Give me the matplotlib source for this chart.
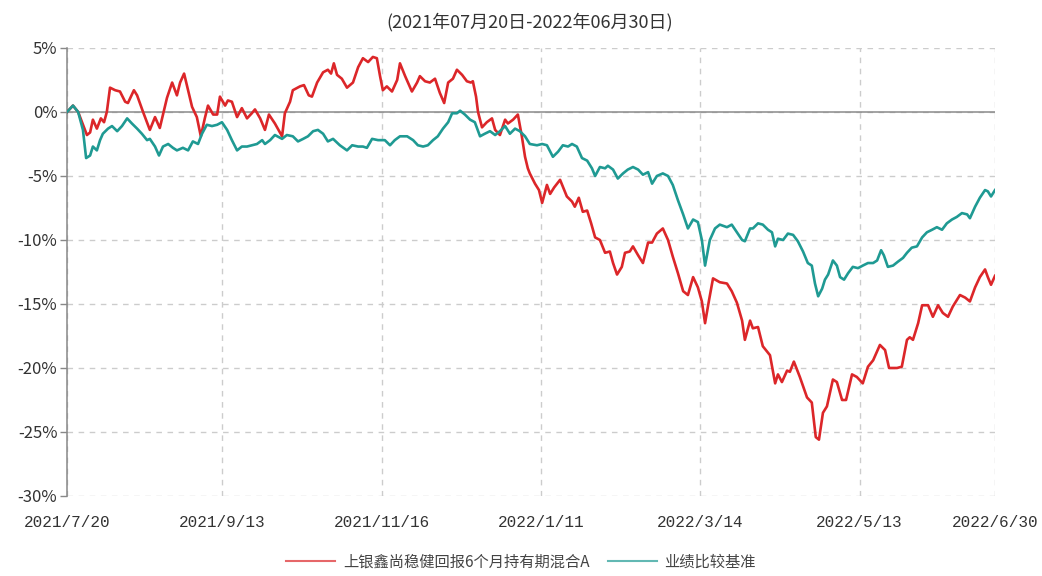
import matplotlib.pyplot as plt
import matplotlib.ticker as mticker

# trading-day position (0 = 2021/7/20) and cumulative return in %
fund_day = [0, 1.5, 2.8, 5.0, 5.8, 6.5, 7.5, 8.5, 9.3, 10.0, 10.8, 12.1, 13.3, 14.6, 15.3, 16.8, 17.6,
            19.1, 20.8, 22.1, 23.3, 25.1, 26.4, 27.6, 28.4, 29.4, 30.4, 31.4, 32.6, 33.6, 34.6, 35.4,
            36.7, 37.7, 38.4, 39.7, 40.4, 41.4, 42.7, 43.9, 45.2, 46.4, 47.2, 48.5, 49.7, 50.7, 52.2,
            54.0, 54.7, 56.0, 56.7, 58.5, 59.5, 60.7, 61.5, 62.8, 64.3, 65.5, 66.3, 67.0, 67.8, 69.0,
            70.3, 71.8, 73.1, 74.3, 75.6, 76.8, 77.8, 78.6, 79.3, 80.3, 81.6, 82.9, 83.6, 84.9, 86.6,
            87.9, 88.6, 89.9, 91.1, 92.4, 93.6, 94.7, 95.7, 96.9, 97.9, 99.2, 100.4, 101.4, 101.9,
            102.7, 103.2, 104.2, 105.4, 106.7, 107.5, 108.7, 110.0, 110.7, 112.0, 113.2, 114.2, 115.0,
            115.7, 116.2, 117.5, 118.5, 119.3, 120.5, 121.3, 122.3, 123.8, 125.5, 126.8, 127.5, 128.5,
            129.5, 130.6, 131.6, 132.6, 133.8, 135.1, 136.3, 137.1, 138.1, 139.3, 140.1, 141.3, 142.1,
            143.4, 144.6, 145.9, 146.9, 148.1, 149.6, 150.9, 152.1, 153.4, 154.7, 155.9, 157.2, 158.4,
            159.4, 160.2, 161.2, 162.2, 163.9, 165.7, 166.9, 168.2, 169.5, 170.2, 171.5, 172.2, 173.5,
            174.7, 176.5, 177.8, 178.5, 179.5, 180.8, 181.5, 182.5, 184.0, 185.8, 187.0, 188.0, 188.8,
            189.8, 190.8, 192.3, 193.3, 194.6, 195.6, 197.1, 198.3, 199.8, 201.1, 202.4, 204.1, 205.4,
            206.4, 208.4, 209.6, 210.9, 211.6, 212.4, 213.7, 214.7, 216.2, 217.4, 218.7, 219.9, 221.2,
            222.4, 224.2, 225.5, 226.7, 228.0, 229.2, 230.5, 231.2, 232.0, 233.0]
fund_ret = [0.0, 0.5, 0.0, -1.8, -1.6, -0.6, -1.3, -0.5, -0.8, 0.0, 1.9, 1.7, 1.6, 0.8, 0.7, 1.7, 1.3,
            0.0, -1.4, -0.4, -1.25, 1.1, 2.3, 1.3, 2.3, 3.0, 1.7, 0.4, -0.4, -1.9, -0.5, 0.5,
            -0.2, -0.2, 1.2, 0.5, 0.9, 0.8, -0.4, 0.3, -0.5, -0.1, 0.2, -0.5, -1.4, -0.2, -0.9,
            -1.9, -0.1, 0.8, 1.7, 2.0, 2.1, 1.3, 1.2, 2.3, 3.1, 3.3, 3.0, 3.8, 2.9, 2.6,
            1.9, 2.3, 3.5, 4.2, 3.9, 4.3, 4.2, 2.8, 1.7, 2.0, 1.6, 2.5, 3.8, 2.8, 1.6,
            2.3, 2.8, 2.4, 2.3, 2.6, 1.5, 0.7, 2.3, 2.6, 3.3, 2.9, 2.4, 2.3, 2.4,
            1.2, 0.0, -1.2, -0.8, -0.5, -1.4, -1.8, -0.6, -0.9, -0.6, -0.2, -1.9, -3.5,
            -4.4, -4.8, -5.6, -6.1, -7.1, -5.7, -6.4, -5.9, -5.3, -6.6, -7.0, -7.4, -6.7,
            -7.8, -7.7, -8.7, -9.8, -10.0, -11.0, -10.9, -11.8, -12.7, -12.1, -11.0, -10.9, -10.5,
            -11.2, -11.8, -10.2, -10.2, -9.5, -9.1, -10.0, -11.3, -12.6, -14.0, -14.3, -12.9, -13.7,
            -14.8, -16.5, -14.7, -13.0, -13.3, -13.4, -14.0, -14.9, -16.3, -17.8, -16.3, -16.9, -16.8,
            -18.3, -19.0, -21.2, -20.5, -21.1, -20.2, -20.3, -19.5, -20.7, -22.3, -22.7, -25.4, -25.6,
            -23.5, -23.0, -20.9, -21.1, -22.5, -22.5, -20.5, -20.7, -21.2, -19.9, -19.4, -18.2, -18.6,
            -20.0, -20.0, -19.9, -17.8, -17.6, -17.8, -16.5, -15.1, -15.1, -16.0, -15.1, -15.7, -16.0,
            -15.2, -14.3, -14.5, -14.8, -13.7, -12.9, -12.3, -12.9, -13.5, -12.8]

bench_day = [0, 1.5, 2.8, 4.0, 4.8, 5.8, 6.5, 7.5, 8.3, 9.0, 10.3, 11.3, 12.6, 13.8, 15.1, 16.3, 17.6,
             18.8, 20.1, 20.8, 22.1, 23.1, 24.1, 25.4, 26.6, 27.6, 29.1, 30.4, 31.6, 32.9, 33.9, 35.1,
             36.4, 37.7, 38.9, 40.2, 41.4, 42.7, 43.9, 45.2, 46.4, 47.7, 49.0, 49.7, 51.0, 52.2, 54.0,
             55.2, 56.7, 58.0, 59.3, 60.5, 61.8, 63.0, 64.3, 65.5, 66.8, 68.5, 70.3, 71.6, 73.1, 74.3,
             75.3, 76.6, 78.1, 79.8, 81.1, 82.3, 83.6, 85.4, 86.9, 88.1, 89.4, 90.6, 91.9, 93.1, 94.4,
             95.7, 96.7, 97.9, 98.7, 99.9, 101.2, 102.4, 103.7, 104.9, 106.2, 107.5, 108.7, 110.0,
             111.2, 112.5, 113.7, 115.0, 116.2, 118.0, 119.3, 120.5, 122.0, 123.3, 124.5, 125.8, 126.8,
             128.0, 129.3, 130.6, 131.8, 132.6, 133.8, 135.1, 135.8, 137.1, 138.3, 139.6, 140.8, 142.1,
             143.4, 144.6, 145.9, 146.9, 148.1, 149.6, 150.9, 152.1, 153.4, 154.7, 155.9, 157.2, 158.4,
             159.4, 160.2, 161.4, 162.7, 163.9, 165.7, 166.9, 168.2, 169.5, 170.2, 171.5, 172.2, 173.5,
             174.7, 176.0, 177.0, 177.8, 178.5, 179.8, 181.0, 182.3, 183.5, 184.8, 186.0, 187.0, 187.8,
             188.6, 189.6, 190.3, 191.1, 192.3, 193.3, 194.1, 195.1, 196.1, 197.3, 198.6, 199.8, 201.1,
             202.4, 203.4, 204.4, 205.1, 206.1, 207.4, 208.6, 209.9, 210.9, 212.1, 213.4, 214.7, 215.9,
             217.2, 218.4, 219.7, 220.9, 222.2, 223.4, 224.7, 226.0, 226.7, 228.0, 229.2, 230.5, 231.2,
             232.0, 233.0]
bench_ret = [0.0, 0.5, 0.0, -1.4, -3.6, -3.4, -2.7, -3.0, -2.2, -1.7, -1.3, -1.1, -1.5, -1.1, -0.5, -0.9, -1.3,
             -1.7, -2.2, -2.1, -2.7, -3.4, -2.7, -2.5, -2.8, -3.0, -2.8, -3.0, -2.3, -2.5, -1.7, -1.0,
             -1.1, -1.0, -0.8, -1.4, -2.2, -3.0, -2.7, -2.7, -2.6, -2.5, -2.2, -2.5, -2.2, -1.8, -2.1,
             -1.8, -1.9, -2.3, -2.1, -1.9, -1.5, -1.4, -1.7, -2.3, -2.1, -2.6, -3.0, -2.6, -2.7, -2.7,
             -2.8, -2.1, -2.2, -2.2, -2.6, -2.2, -1.9, -1.9, -2.2, -2.6, -2.7, -2.6, -2.2, -1.9, -1.3,
             -0.8, -0.1, -0.1, 0.1, -0.2, -0.6, -0.8, -1.9, -1.7, -1.5, -1.8, -1.5, -1.1,
             -1.7, -1.3, -1.5, -1.9, -2.5, -2.6, -2.5, -2.6, -3.5, -3.1, -2.6, -2.7, -2.5,
             -2.7, -3.6, -3.8, -4.4, -5.0, -4.3, -4.4, -4.2, -4.5, -5.2, -4.8, -4.5, -4.3,
             -4.5, -4.9, -4.7, -5.6, -5.0, -4.8, -5.0, -5.7, -6.9, -8.0, -9.1, -8.4, -8.6,
             -10.0, -12.0, -10.0, -9.1, -8.8, -9.0, -8.8, -9.4, -10.0, -10.1, -9.1, -9.1, -8.7,
             -8.8, -9.2, -9.4, -10.5, -9.9, -10.0, -9.5, -9.6, -10.1, -10.9, -11.8, -12.0, -13.4,
             -14.4, -13.8, -13.1, -12.7, -11.6, -12.0, -12.9, -13.1, -12.6, -12.1, -12.2, -12.0, -11.8,
             -11.8, -11.6, -10.8, -11.2, -12.1, -12.0, -11.7, -11.4, -11.0, -10.6, -10.5, -9.8, -9.4,
             -9.2, -9.0, -9.2, -8.7, -8.4, -8.2, -7.9, -8.0, -8.3, -7.4, -6.7, -6.1, -6.2,
             -6.6, -6.1]

tick_day = [0, 39, 79, 119, 159, 199, 233]
tick_lab = ['2021/7/20', '2021/9/13', '2021/11/16', '2022/1/11', '2022/3/14', '2022/5/13', '2022/6/30']

fund_name = '上银鑫尚稳健回报6个月持有期混合A'
bench_name = '业绩比较基准'
subtitle = '(2021年07月20日-2022年06月30日)'

cjk = ['Noto Sans CJK SC', 'DejaVu Sans']
plt.rcParams['font.family'] = cjk

fig = plt.figure(figsize=(10.42, 5.76), dpi=100)
ax = fig.add_axes([0.0643, 0.1389, 0.8906, 0.7778])

ax.plot(fund_day, fund_ret, color='#dc2629', lw=1.9, label=fund_name, zorder=3)
ax.plot(bench_day, bench_ret, color='#1f9a93', lw=1.9, label=bench_name, zorder=3)
ax.axhline(0, color='#8a8a8a', lw=1.1, zorder=2)

ax.set_xlim(0, 233)
ax.set_ylim(-30, 5)
ax.set_yticks(range(-30, 6, 5))
ax.yaxis.set_major_formatter(mticker.FuncFormatter(lambda v, p: '%d%%' % v))
ax.set_xticks(tick_day)
ax.set_xticklabels(tick_lab, family=['Liberation Mono'], fontsize=11.5, color='#333333')
ax.tick_params(axis='x', length=0, pad=14)
ax.tick_params(axis='y', length=5, width=1, color='#888888', labelsize=12, labelcolor='#333333', pad=2)

ax.grid(True, ls=(0, (4, 4)), color='#cccccc', lw=1)
for s in ['top', 'right', 'bottom']:
    ax.spines[s].set_visible(False)
ax.spines['left'].set_color('#888888')
ax.spines['left'].set_linewidth(1.1)

fig.text(0.508, 0.962, subtitle, ha='center', va='center', fontsize=13, color='#333333')

leg = fig.legend(loc='center', bbox_to_anchor=(0.5, 0.024), ncol=2, frameon=False,
                 fontsize=11, handlelength=3.2, columnspacing=1.2, handletextpad=0.5)
for t in leg.get_texts():
    t.set_color('#444444')
for l in leg.get_lines():
    l.set_linewidth(1.5)
    l.set_alpha(0.7)

fig.savefig('out.png', dpi=100)
